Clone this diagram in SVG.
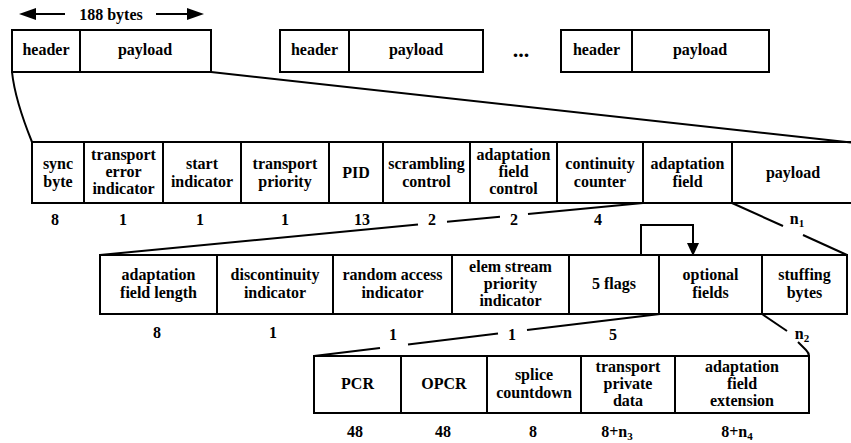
<svg xmlns="http://www.w3.org/2000/svg" width="851" height="443" viewBox="0 0 851 443">
<style>
.box{fill:none;stroke:#000;stroke-width:2}
.t{font-family:"Liberation Serif","Times New Roman",serif;font-size:16px;font-weight:bold;text-anchor:middle;fill:#000}
.ln{stroke:#000;stroke-width:2;fill:none}
.sub{font-size:11px}
</style>
<rect width="851" height="443" fill="#fff"/>

<g id="size-arrow">
<line class="ln" x1="34" y1="14" x2="65" y2="14"/>
<polygon points="19,14 36,8 36,20" fill="#000"/>
<line class="ln" x1="156" y1="14" x2="188" y2="14"/>
<polygon points="204,14 187,8 187,20" fill="#000"/>
<text class="t" x="111" y="20">188 bytes</text>
</g>

<g id="packet1">
<rect class="box" x="12" y="30" width="199" height="42"/>
<line class="ln" x1="80" y1="30" x2="80" y2="72"/>
<text class="t" x="46" y="55">header</text>
<text class="t" x="145" y="55">payload</text>
</g>
<g id="packet2">
<rect class="box" x="280" y="30" width="203" height="42"/>
<line class="ln" x1="349" y1="30" x2="349" y2="72"/>
<text class="t" x="314.5" y="55">header</text>
<text class="t" x="416" y="55">payload</text>
</g>
<text class="t" x="521" y="57" style="font-size:22px">...</text>
<g id="packet3">
<rect class="box" x="561" y="30" width="208" height="42"/>
<line class="ln" x1="632" y1="30" x2="632" y2="72"/>
<text class="t" x="596.5" y="55">header</text>
<text class="t" x="700" y="55">payload</text>
</g>

<g id="connectors">
<path class="ln" d="M12,72 Q15,100 32,142"/>
<line class="ln" x1="211" y1="72" x2="851" y2="142.5"/>
<line class="ln" x1="100" y1="255" x2="418" y2="224.5"/>
<line class="ln" x1="447" y1="221.8" x2="500" y2="216.7"/>
<line class="ln" x1="528" y1="214" x2="643" y2="203"/>
<line class="ln" x1="732" y1="203" x2="783" y2="226"/>
<line class="ln" x1="803" y1="235" x2="847" y2="255"/>
<line class="ln" x1="314" y1="356" x2="380" y2="348"/>
<line class="ln" x1="408" y1="344.6" x2="498" y2="333.6"/>
<line class="ln" x1="527" y1="330.1" x2="660" y2="314"/>
<line class="ln" x1="762" y1="314" x2="787" y2="331"/>
<path class="ln" d="M798,342 L806,350 Q809,353 809,356"/>
<path class="ln" d="M641,255 V225 H693 V244"/>
<polygon points="687,243 699,243 693,256" fill="#000"/>
</g>

<g id="ts-header">
<rect class="box" x="32" y="142" width="830" height="61"/>
<line class="ln" x1="84" y1="142" x2="84" y2="203"/>
<line class="ln" x1="163" y1="142" x2="163" y2="203"/>
<line class="ln" x1="241" y1="142" x2="241" y2="203"/>
<line class="ln" x1="329" y1="142" x2="329" y2="203"/>
<line class="ln" x1="383" y1="142" x2="383" y2="203"/>
<line class="ln" x1="470" y1="142" x2="470" y2="203"/>
<line class="ln" x1="557" y1="142" x2="557" y2="203"/>
<line class="ln" x1="643" y1="142" x2="643" y2="203"/>
<line class="ln" x1="732" y1="142" x2="732" y2="203"/>
<text class="t" x="58" y="169">sync<tspan x="58" dy="17.5">byte</tspan></text>
<text class="t" x="123.5" y="160">transport<tspan x="123.5" dy="17">error</tspan><tspan x="123.5" dy="17">indicator</tspan></text>
<text class="t" x="202" y="169">start<tspan x="202" dy="17.5">indicator</tspan></text>
<text class="t" x="285" y="169">transport<tspan x="285" dy="17.5">priority</tspan></text>
<text class="t" x="356" y="177.5">PID</text>
<text class="t" x="426.5" y="169">scrambling<tspan x="426.5" dy="17.5">control</tspan></text>
<text class="t" x="513.5" y="160">adaptation<tspan x="513.5" dy="17">field</tspan><tspan x="513.5" dy="17">control</tspan></text>
<text class="t" x="600" y="169">continuity<tspan x="600" dy="17.5">counter</tspan></text>
<text class="t" x="687.5" y="169">adaptation<tspan x="687.5" dy="17.5">field</tspan></text>
<text class="t" x="793" y="177.5">payload</text>
<text class="t" x="55" y="225">8</text>
<text class="t" x="123" y="225">1</text>
<text class="t" x="200" y="225">1</text>
<text class="t" x="285" y="225">1</text>
<text class="t" x="362" y="225">13</text>
<text class="t" x="432" y="225">2</text>
<text class="t" x="514" y="225">2</text>
<text class="t" x="598" y="225">4</text>
<text class="t" x="797" y="224">n<tspan class="sub" dy="3">1</tspan></text>
</g>

<g id="adaptation-field">
<rect class="box" x="100" y="255" width="747" height="59"/>
<line class="ln" x1="217" y1="255" x2="217" y2="314"/>
<line class="ln" x1="333" y1="255" x2="333" y2="314"/>
<line class="ln" x1="452" y1="255" x2="452" y2="314"/>
<line class="ln" x1="569" y1="255" x2="569" y2="314"/>
<line class="ln" x1="659" y1="255" x2="659" y2="314"/>
<line class="ln" x1="762" y1="255" x2="762" y2="314"/>
<text class="t" x="158.5" y="280">adaptation<tspan x="158.5" dy="17.5">field length</tspan></text>
<text class="t" x="275" y="280">discontinuity<tspan x="275" dy="17.5">indicator</tspan></text>
<text class="t" x="392.5" y="280">random access<tspan x="392.5" dy="17.5">indicator</tspan></text>
<text class="t" x="510.5" y="272">elem stream<tspan x="510.5" dy="17">priority</tspan><tspan x="510.5" dy="17">indicator</tspan></text>
<text class="t" x="614" y="289">5 flags</text>
<text class="t" x="710.5" y="280">optional<tspan x="710.5" dy="17.5">fields</tspan></text>
<text class="t" x="804.5" y="280">stuffing<tspan x="804.5" dy="17.5">bytes</tspan></text>
<text class="t" x="157" y="338">8</text>
<text class="t" x="273" y="338">1</text>
<text class="t" x="393" y="340">1</text>
<text class="t" x="512" y="340">1</text>
<text class="t" x="613" y="340">5</text>
<text class="t" x="802" y="339">n<tspan class="sub" dy="3">2</tspan></text>
</g>

<g id="optional-fields">
<rect class="box" x="314" y="356" width="495" height="57"/>
<line class="ln" x1="401" y1="356" x2="401" y2="413"/>
<line class="ln" x1="487" y1="356" x2="487" y2="413"/>
<line class="ln" x1="581" y1="356" x2="581" y2="413"/>
<line class="ln" x1="675" y1="356" x2="675" y2="413"/>
<text class="t" x="357.5" y="389">PCR</text>
<text class="t" x="444" y="389">OPCR</text>
<text class="t" x="534" y="380">splice<tspan x="534" dy="17.5">countdown</tspan></text>
<text class="t" x="628" y="372">transport<tspan x="628" dy="17">private</tspan><tspan x="628" dy="17">data</tspan></text>
<text class="t" x="742" y="372">adaptation<tspan x="742" dy="17">field</tspan><tspan x="742" dy="17">extension</tspan></text>
<text class="t" x="355" y="437">48</text>
<text class="t" x="443" y="437">48</text>
<text class="t" x="533" y="437">8</text>
<text class="t" x="617" y="437">8+n<tspan class="sub" dy="3">3</tspan></text>
<text class="t" x="737" y="437">8+n<tspan class="sub" dy="3">4</tspan></text>
</g>
</svg>
